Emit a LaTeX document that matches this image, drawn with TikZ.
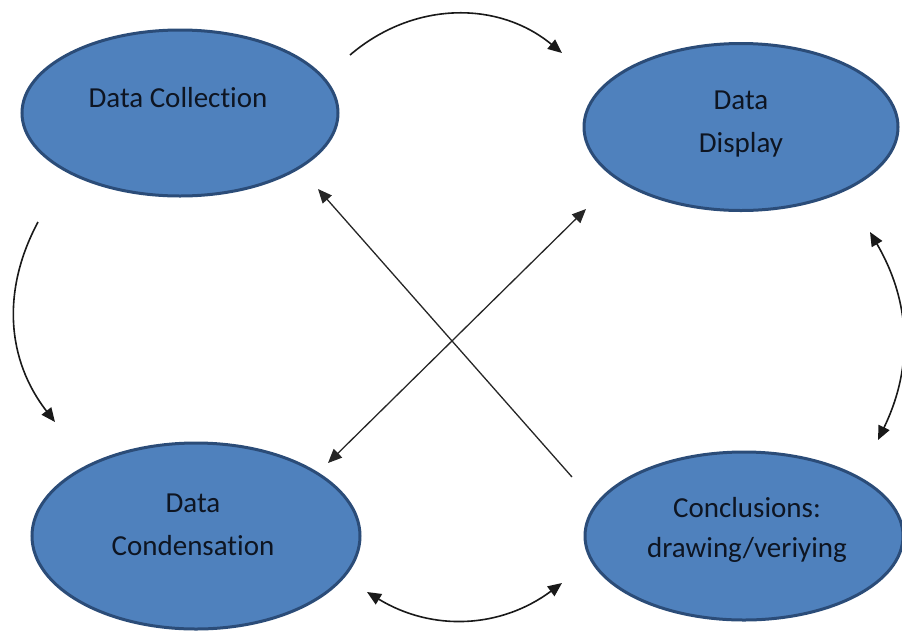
\documentclass[tikz,border=0pt]{standalone}
\usepackage{fontspec}
\setmainfont{Carlito}[Ligatures=NoCommon]
\usetikzlibrary{shapes.geometric,arrows.meta}
\definecolor{ovalfill}{HTML}{4F81BD}
\definecolor{ovalline}{HTML}{2B4C78}
\definecolor{txt}{HTML}{0E1522}
\begin{document}
\begin{tikzpicture}[x=1pt,y=-1pt,
  oval/.style={ellipse,draw=ovalline,fill=ovalfill,line width=3pt,inner sep=0pt},
  lbl/.style={anchor=base,align=center,text=txt,font=\fontsize{29pt}{43pt}\selectfont,inner sep=0pt},
  tip/.style={},
  conn/.style={line width=1.6pt,black!90,-{Triangle[length=14pt,width=12pt]}},
  conn2/.style={line width=1.6pt,black!90,{Triangle[length=14pt,width=12pt]}-{Triangle[length=14pt,width=12pt]}},
  link/.style={line width=1.3pt,black!85,-{Triangle[length=14pt,width=12pt]}},
  link2/.style={line width=1.3pt,black!85,{Triangle[length=14pt,width=12pt]}-{Triangle[length=14pt,width=12pt]}}]
\useasboundingbox (0,0) rectangle (902,630);
% ovals
\node[oval,minimum width=316pt,minimum height=166pt] (coll) at (180,113) {};
\node[oval,minimum width=314pt,minimum height=167pt] (disp) at (741,127) {};
\node[oval,minimum width=328pt,minimum height=186pt] (cond) at (196,536) {};
\node[oval,minimum width=318pt,minimum height=168pt] (concl) at (744,536) {};
% texts (base = baseline of last line)
\node[lbl] (tcoll) at (178,107) {Data Collection};
\node[lbl] (tdisp) at (741,152) {Data\\Display};
\node[lbl] (tcond) at (193,555) {Data\\Condensation};
\node[lbl] (tconcl) at (747,557) {Conclusions:\\[-3pt]drawing/veriying};
% connector end points
\coordinate (a1) at (350,55);   \coordinate (a2) at (562,53);
\coordinate (b1) at (38,222);   \coordinate (b2) at (55,422);
\coordinate (c1) at (870,232);  \coordinate (c2) at (878,440);
\coordinate (d1) at (367,592);  \coordinate (d2) at (562,583);
\coordinate (e1) at (572,477);  \coordinate (e2) at (318,189);
\coordinate (f1) at (586,209);  \coordinate (f2) at (328,463);
% connectors
\draw[conn] (a1) to[bend left=40] (a2);
\draw[conn] (b1) to[bend right=33] (b2);
\draw[conn2] (c1) to[bend left=28] (c2);
\draw[conn2] (d1) to[bend right=34] (d2);
\draw[link] (e1) -- (e2);
\draw[link2] (f1) -- (f2);
\end{tikzpicture}
\end{document}
